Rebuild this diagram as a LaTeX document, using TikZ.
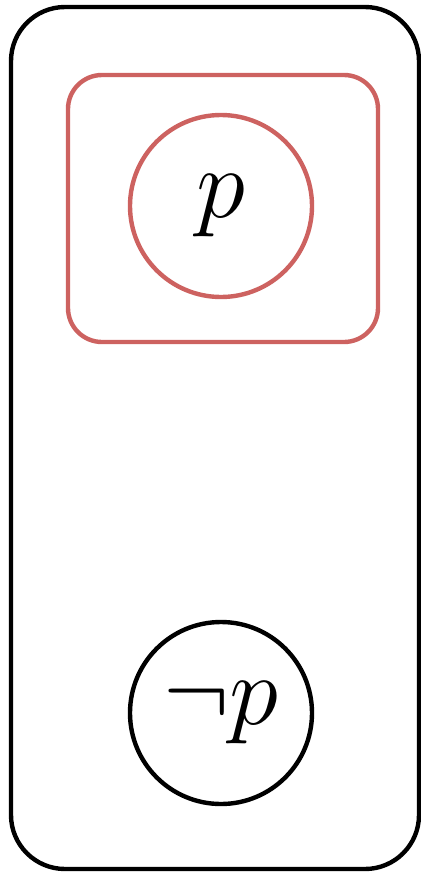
\documentclass[tikz,border=0pt]{standalone}
\usepackage{amssymb,amsmath,graphicx}
\usepackage{tikz}
\definecolor{worldred}{RGB}{205,98,96}

\begin{document}
\begin{tikzpicture}[x=0.5pt, y=-0.5pt, line width=2.2pt, font=\Huge]
		\useasboundingbox (0,0) rectangle (421,873);
		% outer frame
		\draw[rounded corners=27pt] (11,7) rectangle (419,869);
		% red box holding p
		\draw[worldred, rounded corners=17pt] (68,75) rectangle (378,342);
		\node[circle, draw=worldred, minimum size=91pt, inner sep=0pt] (p) at (221,206) {\scalebox{2}{$p$}};
		% not p
		\node[circle, draw, minimum size=91pt, inner sep=0pt] (np) at (221,713) {\scalebox{2}{$\neg p$}};
	\end{tikzpicture}
\end{document}
